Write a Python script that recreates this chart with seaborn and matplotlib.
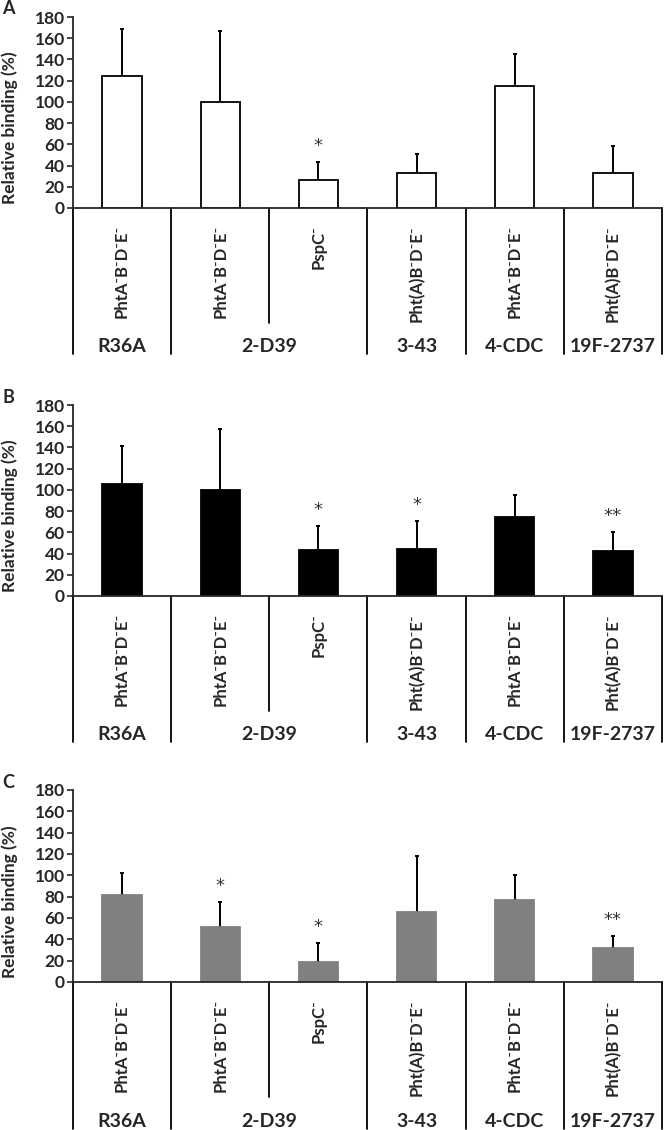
"""
Relative binding of pneumococcal mutants, three panels (A, B, C).
"""

import numpy as np
import pandas as pd
import matplotlib
matplotlib.use("Agg")
import matplotlib.pyplot as plt
import seaborn as sns

# Categories
mutants = ["PhtA⁻B⁻D⁻E⁻", "PhtA⁻B⁻D⁻E⁻", "PspC⁻", "Pht(A)B⁻D⁻E⁻", "PhtA⁻B⁻D⁻E⁻", "Pht(A)B⁻D⁻E⁻"]
strain_of_bar = ["R36A", "2-D39", "2-D39", "3-43", "4-CDC", "19F-2737"]

# Panel A
binding_a = [124, 100, 26, 33, 115, 33]
sd_a = [45, 67, 17, 18, 30, 25]
sig_a = ["", "", "*", "", "", ""]

# Panel B
binding_b = [106, 100, 43, 44, 74, 42]
sd_b = [35, 57, 23, 27, 21, 18]
sig_b = ["", "", "*", "*", "", "**"]

# Panel C
binding_c = [82, 52, 19, 66, 77, 32]
sd_c = [20, 23, 18, 52, 23, 11]
sig_c = ["", "*", "*", "", "", "**"]

yticks = list(range(0, 181, 20))

sns.set_style("ticks")
plt.rcParams["font.family"] = ["Lato", "DejaVu Sans"]

W, H = 666, 1130
fig = plt.figure(figsize=(W / 100, H / 100), dpi=100)


def add_axes_px(left, top, right, bottom):
    return fig.add_axes([left / W, 1 - bottom / H, (right - left) / W, (bottom - top) / H])


def draw_panel(ax, values, errors, stars, face, edge):
    n = len(values)
    df = pd.DataFrame({"pos": np.arange(n), "binding": values})
    sns.barplot(data=df, x="pos", y="binding", color=face, saturation=1,
                width=0.4, errorbar=None, edgecolor=edge, linewidth=1.3, ax=ax)
    ax.errorbar(np.arange(n), values, yerr=[np.zeros(n), errors], fmt="none",
                ecolor="black", elinewidth=1.4, capsize=1.5, capthick=1.4, zorder=0.9)

    # significance marks
    for i, s in enumerate(stars):
        if s:
            ax.text(i, values[i] + errors[i] + 15, s, ha="center", va="center",
                    fontsize=13, color="#333333", family="DejaVu Sans")

    ax.set_xlim(-0.5, n - 0.5)
    ax.set_ylim(0, 180)
    ax.set_yticks(yticks)
    ax.set_xticks([])
    ax.set_xlabel("")
    ax.set_ylabel("")
    ax.text(-0.107, 0.42, "Relative binding (%)", rotation=90, ha="center", va="center",
            fontsize=12.5, fontweight="bold", transform=ax.transAxes)
    ax.tick_params(axis="y", length=4, width=1.2, labelsize=12.5, pad=2)
    for lab in ax.get_yticklabels():
        lab.set_fontweight("bold")
    sns.despine(ax=ax)
    for side in ["left", "bottom"]:
        ax.spines[side].set_linewidth(1.3)

    # label table under the axis
    trans = ax.get_xaxis_transform()
    for i, name in enumerate(mutants):
        ax.text(i, -0.09, name, rotation=90, ha="center", va="top",
                fontsize=12, fontweight="bold", transform=trans)

    bounds = [i - 0.5 for i in range(n + 1)]
    for b in bounds:
        left = int(np.floor(b))
        right = left + 1
        inner = 0 <= left and right < n and strain_of_bar[left] == strain_of_bar[right]
        ax.plot([b, b], [0, -0.60 if inner else -0.765], transform=trans,
                clip_on=False, color="black", lw=1.3)

    groups = []
    for i, s in enumerate(strain_of_bar):
        if groups and groups[-1][0] == s:
            groups[-1][1].append(i)
        else:
            groups.append((s, [i]))
    for s, idx in groups:
        ax.text(np.mean(idx), -0.725, s, ha="center", va="center",
                fontsize=14, fontweight="bold", transform=trans)


ax_a = add_axes_px(73, 17, 662, 208)
draw_panel(ax_a, binding_a, sd_a, sig_a, "white", "black")
ax_b = add_axes_px(73, 405, 662, 596)
draw_panel(ax_b, binding_b, sd_b, sig_b, "black", "black")
ax_c = add_axes_px(73, 790, 662, 982)
draw_panel(ax_c, binding_c, sd_c, sig_c, "#808080", "#808080")

for letter, y in [("A", 8), ("B", 398), ("C", 783)]:
    fig.text(8 / W, 1 - y / H, letter, ha="center", va="center",
             fontsize=13, fontweight="bold")

fig.savefig("out.png", dpi=100)
plt.close(fig)
